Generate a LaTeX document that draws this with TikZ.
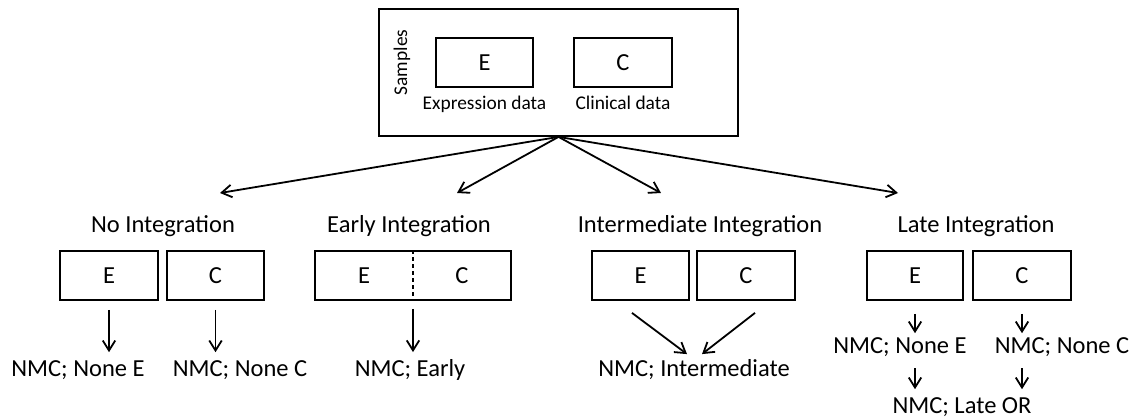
\documentclass[tikz,border=0pt]{standalone}
\usepackage{fontspec}
\setmainfont{Carlito}
\usepackage{tikz}
\usetikzlibrary{arrows.meta,positioning}
\tikzset{
    -{Straight Barb[length=10pt,width=12.5pt]},x=1pt,y=-1pt,
    box/.style ={rectangle, draw, minimum width = 97pt, minimum height = 49pt, font=\fontsize{24.5}{29}\selectfont},
    lbl/.style = {anchor=base, inner sep=0pt, font=\fontsize{24.5}{29}\selectfont},
    sm/.style = {anchor=base, inner sep=0pt, font=\fontsize{19.4}{23}\selectfont}
}

\begin{document}
\begin{tikzpicture}[line width=1.8pt]
    \useasboundingbox (0,0) rectangle (1132,419);
    % samples with both data types
    \node[box, minimum width=359pt, minimum height=127pt] (s) at (558.5,72.5) {};
    \node[box] (se) at (484.5,62.5) {E};
    \node[box, minimum width=98pt] (sc) at (623,62.5) {C};
    \node[sm] (sel) at (484.5,110) {Expression data};
    \node[sm] (scl) at (623,110) {Clinical data};
    \node[sm, anchor=center, rotate=90] (sl) at (402,62.5) {Samples};

    % the four strategies
    \node[lbl] (n) at (163,233) {No Integration};
    \node[lbl] (e) at (409,233) {Early Integration};
    \node[lbl] (m) at (700,233) {Intermediate Integration};
    \node[lbl] (l) at (976,233) {Late Integration};

    \coordinate (ta) at (220,193);
    \coordinate (tb) at (457,193);
    \coordinate (tc) at (661,193);
    \coordinate (td) at (898,193);
    \path (s.south) edge (ta);
    \path (s.south) edge (tb);
    \path (s.south) edge (tc);
    \path (s.south) edge (td);

    % no integration
    \node[box, minimum width=98pt] (ne) at (109,275.5) {E};
    \node[box] (nc) at (215.5,275.5) {C};
    \node[lbl] (nne) at (78,377) {NMC; None E};
    \node[lbl] (nnc) at (240,377) {NMC; None C};
    \path (ne.south) edge[shorten <=9pt, shorten >=8pt] (ne.south |- nne.north);
    \path (nc.south) edge[shorten <=9pt, shorten >=8pt] (nc.south |- nnc.north);

    % early integration
    \node[box, minimum width=196pt] (eb) at (413,275.5) {};
    \node[lbl, anchor=center] (ee) at (364,275.5) {E};
    \node[lbl, anchor=center] (ec) at (462,275.5) {C};
    \draw[-, dash pattern=on 4pt off 3pt, line width=1.3pt] (eb.north) -- (eb.south);
    \node[lbl] (ene) at (410,377) {NMC; Early};
    \path (eb.south) edge[shorten <=8pt, shorten >=7pt] (eb.south |- ene.north);

    % intermediate integration
    \node[box] (me) at (640.5,275.5) {E};
    \node[box, minimum width=98pt] (mc) at (746,275.5) {C};
    \node[lbl] (mne) at (694,377) {NMC; Intermediate};
    \path ([xshift=-8.5pt,yshift=-12pt]me.south) edge ([xshift=-7pt,yshift=5pt]mne.north);
    \path ([xshift=9pt,yshift=-12pt]mc.south) edge ([xshift=8pt,yshift=5pt]mne.north);

    % late integration
    \node[box, minimum width=96pt] (le) at (915,275.5) {E};
    \node[box, minimum width=98pt] (lc) at (1022,275.5) {C};
    \node[lbl] (lne) at (900,354) {NMC; None E};
    \node[lbl] (lnc) at (1062,354) {NMC; None C};
    \node[lbl] (lno) at (962,413) {NMC; Late OR};
    \path (le.south) edge[shorten <=13pt, shorten >=4pt] (le.south |- lne.north);
    \path (lc.south) edge[shorten <=13pt, shorten >=4pt] (lc.south |- lnc.north);
    \path (le.south |- lne.south) edge[shorten <=10pt, shorten >=7pt] (le.south |- lno.north);
    \path (lc.south |- lnc.south) edge[shorten <=10pt, shorten >=7pt] (lc.south |- lno.north);

\end{tikzpicture}
\end{document}
